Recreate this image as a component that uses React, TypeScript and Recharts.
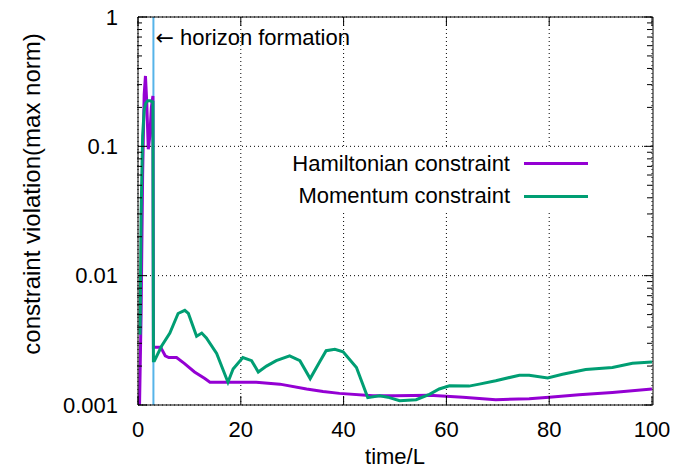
import {
  LineChart,
  Line,
  XAxis,
  YAxis,
  CartesianGrid,
  ReferenceLine,
  Legend,
} from 'recharts';

const hamiltonianTime = [
  0.3, 0.6, 0.9, 1.2, 1.45, 1.7, 2.0, 2.3, 2.6, 2.9, 3.0, 3.5, 4.4, 5.3, 6.0, 7.5, 9, 11, 13, 14,
  20, 23, 27.6, 32.8, 36, 39.2, 45.7, 50, 56.7, 63.2, 69.6, 76.1, 80, 85.8, 92.3, 100,
];
const hamiltonianValue = [
  0.001, 0.005, 0.06, 0.25, 0.35, 0.22, 0.095, 0.12, 0.2, 0.245, 0.0028, 0.0028, 0.0028, 0.0024,
  0.00233, 0.00233, 0.0021, 0.0018, 0.0016, 0.0015, 0.0015, 0.0015, 0.00145, 0.00133, 0.00127,
  0.00123, 0.00118, 0.00118, 0.00119, 0.00115, 0.0011, 0.00112, 0.00115, 0.0012, 0.00125, 0.00133,
];

const momentumTime = [
  0.4, 0.6, 0.9, 1.2, 1.5, 1.9, 2.4, 2.9, 3.0, 3.2, 4.6, 6.2, 7.8, 9.1, 9.8, 11.4, 12.4, 13.3, 15.3,
  17.5, 18.5, 20.4, 22.1, 23.4, 25, 26.9, 29.5, 31.5, 33.5, 35.3, 36.6, 38.3, 39.9, 42.5, 44.7, 47,
  48.6, 50.9, 54.1, 56.7, 58.6, 60.6, 64.4, 66.4, 69.6, 74.2, 76.1, 79.7, 82.6, 87.1, 92.3, 96.2, 100,
];
const momentumValue = [
  0.0035, 0.03, 0.12, 0.19, 0.215, 0.225, 0.225, 0.22, 0.0022, 0.0022, 0.00286, 0.0036, 0.0051,
  0.0054, 0.0051, 0.0034, 0.0036, 0.0033, 0.0025, 0.0015, 0.0019, 0.00233, 0.0022, 0.0018, 0.002,
  0.0022, 0.0024, 0.0022, 0.0016, 0.00214, 0.00263, 0.0027, 0.00258, 0.00195, 0.00114, 0.00118,
  0.00115, 0.00108, 0.0011, 0.00121, 0.00133, 0.00141, 0.0014, 0.00145, 0.00154, 0.0017, 0.0017,
  0.00162, 0.00173, 0.00188, 0.00195, 0.0021, 0.00215,
];

const horizonTime = 3.0;
const xTicks = [0, 20, 40, 60, 80, 100];
const yTicks = [0.001, 0.01, 0.1, 1];
const yMinorTicks = [
  0.002, 0.003, 0.004, 0.005, 0.006, 0.007, 0.008, 0.009,
  0.02, 0.03, 0.04, 0.05, 0.06, 0.07, 0.08, 0.09,
  0.2, 0.3, 0.4, 0.5, 0.6, 0.7, 0.8, 0.9,
];

const hamiltonianData = hamiltonianTime.map((t, i) => ({ t, v: hamiltonianValue[i] }));
const momentumData = momentumTime.map((t, i) => ({ t, v: momentumValue[i] }));

const FONT = '"Liberation Sans", Arial, sans-serif';
const tickStyle = { fill: '#000', fontSize: 22, fontFamily: FONT };
const noLabel = () => '';

function LegendBox({ payload }: any) {
  return (
    <div style={{ background: '#fff', fontFamily: FONT, fontSize: 22, color: '#000', paddingRight: 12 }}>
      {(payload || []).map((entry: any, i: number) => (
        <div
          key={entry.value}
          style={{
            display: 'flex',
            alignItems: 'center',
            justifyContent: 'flex-end',
            height: i === 0 ? 31 : 34,
          }}
        >
          <span>{entry.value}</span>
          <span
            style={{ display: 'inline-block', width: 64, height: 3, background: entry.color, marginLeft: 14 }}
          />
        </div>
      ))}
    </div>
  );
}

export default function App() {
  return (
    <div style={{ position: 'absolute', left: 0, top: 0, background: '#fff' }}>
      <LineChart
        width={676}
        height={470}
        margin={{ top: 16, right: 22, bottom: 64, left: 136 }}
        style={{ fontFamily: FONT }}
      >
        <CartesianGrid stroke="#000" strokeDasharray="1 3" />
        <XAxis
          dataKey="t"
          type="number"
          domain={[0, 100]}
          ticks={xTicks}
          interval={0}
          height={1}
          tickSize={-9}
          tickMargin={25}
          tick={tickStyle}
          stroke="#000"
          allowDataOverflow
          label={{ value: 'time/L', position: 'insideBottom', content: () => (
            <text x={395} y={464} textAnchor="middle" fontSize={22} fontFamily={FONT} fill="#000">time/L</text>
          ) }}
        />
        <XAxis
          xAxisId="top"
          orientation="top"
          dataKey="t"
          type="number"
          domain={[0, 100]}
          ticks={xTicks}
          interval={0}
          height={1}
          tickSize={-9}
          tickFormatter={noLabel}
          stroke="#000"
          allowDataOverflow
        />
        <YAxis
          scale="log"
          type="number"
          domain={[0.001, 1]}
          ticks={yTicks}
          interval={0}
          width={1}
          tickSize={-9}
          tickMargin={29}
          tick={tickStyle}
          tickFormatter={(v: number) => String(v)}
          stroke="#000"
          allowDataOverflow
          label={{ value: 'constraint violation(max norm)', content: () => (
            <text
              transform="translate(40,194) rotate(-90)"
              textAnchor="middle"
              fontSize={24}
              fontFamily={FONT}
              fill="#000"
            >
              constraint violation(max norm)
            </text>
          ) }}
        />
        <YAxis
          yAxisId="minorL"
          scale="log"
          type="number"
          domain={[0.001, 1]}
          ticks={yMinorTicks}
          interval={0}
          width={1}
          tickSize={-5}
          tickFormatter={noLabel}
          axisLine={false}
          stroke="#000"
          allowDataOverflow
        />
        <YAxis
          yAxisId="right"
          orientation="right"
          scale="log"
          type="number"
          domain={[0.001, 1]}
          ticks={yTicks}
          interval={0}
          width={1}
          tickSize={-9}
          tickFormatter={noLabel}
          stroke="#000"
          allowDataOverflow
        />
        <YAxis
          yAxisId="minorR"
          orientation="right"
          scale="log"
          type="number"
          domain={[0.001, 1]}
          ticks={yMinorTicks}
          interval={0}
          width={1}
          tickSize={-5}
          tickFormatter={noLabel}
          axisLine={false}
          stroke="#000"
          allowDataOverflow
        />
        <ReferenceLine
          x={horizonTime}
          stroke="#56B4E9"
          strokeWidth={2}
          label={(props: any) => (
            <text x={props.viewBox.x + 2} y={props.viewBox.y + 28} fontSize={22} fontFamily={FONT} fill="#000">
              <tspan fontFamily="DejaVu Sans">←</tspan> horizon formation
            </text>
          )}
        />
        <Line
          data={hamiltonianData}
          dataKey="v"
          name="Hamiltonian constraint"
          stroke="#9400D3"
          strokeWidth={3}
          dot={false}
          isAnimationActive={false}
        />
        <Line
          data={momentumData}
          dataKey="v"
          name="Momentum constraint"
          stroke="#009E73"
          strokeWidth={3}
          dot={false}
          isAnimationActive={false}
        />
        <Legend
          layout="horizontal"
          verticalAlign="middle"
          align="center"
          content={<LegendBox />}
          wrapperStyle={{ left: 280, top: 148, width: 320 }}
        />
      </LineChart>
    </div>
  );
}
